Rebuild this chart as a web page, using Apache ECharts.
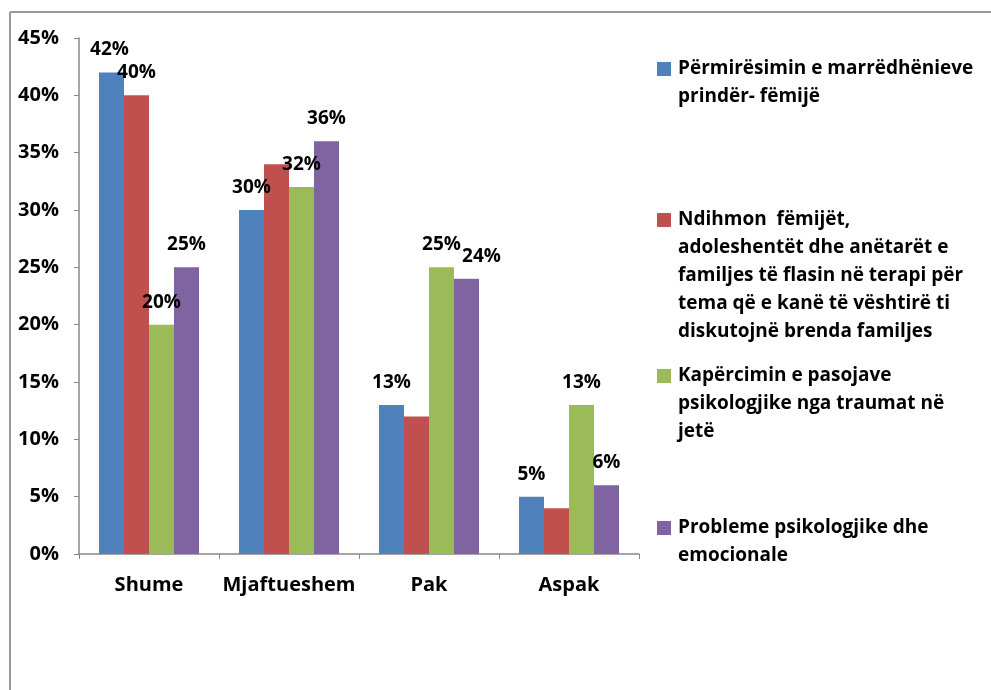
<!DOCTYPE html>
<html>
<head>
<meta charset="utf-8">
<script src="https://cdn.jsdelivr.net/npm/echarts@6/dist/echarts.min.js"></script>
<style>
  html, body { margin: 0; padding: 0; background: #fff; }
  #main { width: 991px; height: 690px; }
</style>
</head>
<body>
<div id="main"></div>
<script>
  // categories and values (in %)
  const categories = ["Shume", "Mjaftueshem", "Pak", "Aspak"];
  const seriesNames = [
    "Përmirësimin e marrëdhënieve prindër- fëmijë",
    "Ndihmon  fëmijët, adoleshentët dhe anëtarët e familjes të flasin në terapi për tema që e kanë të vështirë ti diskutojnë brenda familjes",
    "Kapërcimin e pasojave psikologjike nga traumat në jetë",
    "Probleme psikologjike dhe emocionale"
  ];
  const legendLines = [
    ["Përmirësimin e marrëdhënieve", "prindër- fëmijë"],
    ["Ndihmon  fëmijët,", "adoleshentët dhe anëtarët e", "familjes të flasin në terapi për", "tema që e kanë të vështirë ti", "diskutojnë brenda familjes"],
    ["Kapërcimin e pasojave", "psikologjike nga traumat në", "jetë"],
    ["Probleme psikologjike dhe", "emocionale"]
  ];
  const valuesBlue = [42, 30, 13, 5];
  const valuesRed = [40, 34, 12, 4];
  const valuesGreen = [20, 32, 25, 13];
  const valuesPurple = [25, 36, 24, 6];
  const allValues = [valuesBlue, valuesRed, valuesGreen, valuesPurple];
  // which labels are visible in the picture
  const showLabels = [
    [true, true, true, true],
    [true, false, false, false],
    [true, true, true, true],
    [true, true, true, true]
  ];

  const colors = ["#4F81BD", "#C0504D", "#9BBB59", "#8064A2"];
  const font = "'Open Sans', 'Noto Sans', sans-serif";
  const lh = 28;
  const iconCenters = [69, 220, 376, 528];

  const chart = echarts.init(document.getElementById("main"));

  const series = allValues.map(function (vals, s) {
    return {
      name: seriesNames[s],
      type: "bar",
      barWidth: 25,
      barGap: "0%",
      itemStyle: { color: colors[s] },
      label: {
        show: true,
        position: "top",
        distance: 13,
        formatter: "{c}%",
        color: "#000",
        fontFamily: font,
        fontWeight: "bold",
        fontSize: 19
      },
      data: vals.map(function (v, i) {
        const item = { value: v };
        if (!showLabels[s][i]) item.label = { show: false };
        if (s === 3 && i === 2) item.label = { offset: [15, 0] };
        if (s === 0 && i === 0) item.label = { offset: [-2, 0] };
        return item;
      })
    };
  });

  // one legend per series so each block sits where it does in the picture;
  // blank lines in front keep the marker level with the first text line
  const legends = seriesNames.map(function (name, s) {
    const n = legendLines[s].length;
    const pad = new Array(n - 1).fill("").join("\n");
    return {
      data: [name],
      orient: "vertical",
      left: 657,
      top: iconCenters[s] - (n - 1) * lh - lh / 2,
      padding: 0,
      icon: "rect",
      itemWidth: 14,
      itemHeight: 14,
      selectedMode: false,
      formatter: function () {
        return (n > 1 ? pad + "\n" : "") + legendLines[s].join("\n");
      },
      textStyle: {
        fontFamily: font,
        fontWeight: "bold",
        fontSize: 19,
        color: "#000",
        lineHeight: lh,
        padding: [0, 0, 0, 2]
      }
    };
  });

  const option = {
    backgroundColor: "#fff",
    animation: false,
    color: colors,
    grid: { left: 79, top: 38, right: 352, bottom: 136, containLabel: false },
    legend: legends,
    xAxis: {
      type: "category",
      data: categories,
      axisLine: { lineStyle: { color: "#888", width: 1.5 } },
      axisTick: { show: true, length: 5, lineStyle: { color: "#888" } },
      axisLabel: {
        interval: 0,
        margin: 21,
        color: "#000",
        fontFamily: font,
        fontWeight: "bold",
        fontSize: 20
      }
    },
    yAxis: {
      type: "value",
      min: 0,
      max: 45,
      interval: 5,
      splitLine: { show: false },
      axisLine: { show: true, lineStyle: { color: "#888", width: 1.5 } },
      axisTick: { show: true, length: 5, lineStyle: { color: "#888" } },
      axisLabel: {
        formatter: "{value}%",
        margin: 20,
        color: "#000",
        fontFamily: font,
        fontWeight: "bold",
        fontSize: 20
      }
    },
    graphic: [
      { type: "line", shape: { x1: 10, y1: 12, x2: 991, y2: 12 }, style: { stroke: "#999", lineWidth: 2 } },
      { type: "line", shape: { x1: 10, y1: 12, x2: 10, y2: 690 }, style: { stroke: "#999", lineWidth: 2 } }
    ],
    series: series
  };

  chart.setOption(option);
</script>
</body>
</html>
